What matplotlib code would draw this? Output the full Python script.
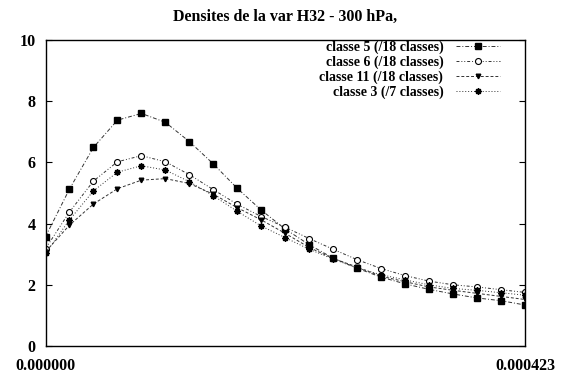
import numpy as np
import matplotlib
matplotlib.use("Agg")
import matplotlib.pyplot as plt

# Densites de la var H32 - 300 hPa : 21 points between 0 and 0.000423
x_min = 0.0
x_max = 0.000423
n_pts = 21
x_vals = np.linspace(x_min, x_max, n_pts)

classe5 = [3.57, 5.13, 6.49, 7.38, 7.60, 7.31, 6.68, 5.95, 5.15, 4.44, 3.82,
           3.31, 2.87, 2.54, 2.25, 2.03, 1.85, 1.70, 1.57, 1.48, 1.34]
classe6 = [3.18, 4.38, 5.39, 6.02, 6.22, 6.02, 5.60, 5.11, 4.63, 4.23, 3.88,
           3.51, 3.16, 2.82, 2.53, 2.30, 2.12, 2.00, 1.93, 1.84, 1.75]
classe11 = [3.08, 3.95, 4.64, 5.14, 5.42, 5.47, 5.31, 4.96, 4.52, 4.12, 3.68,
            3.22, 2.86, 2.58, 2.28, 2.10, 1.93, 1.82, 1.72, 1.62, 1.52]
classe3 = [3.03, 4.12, 5.07, 5.68, 5.89, 5.75, 5.37, 4.91, 4.40, 3.92, 3.54,
           3.16, 2.84, 2.55, 2.33, 2.16, 2.00, 1.88, 1.82, 1.74, 1.66]

labels = ["classe 5 (/18 classes)", "classe 6 (/18 classes)",
          "classe 11 (/18 classes)", "classe 3 (/7 classes)"]
y_ticks = [0, 2, 4, 6, 8, 10]

plt.rcParams['font.family'] = ['Liberation Serif', 'DejaVu Serif']
plt.rcParams['font.weight'] = 'bold'

fig = plt.figure(figsize=(5.79, 3.73), dpi=100)
ax = fig.add_axes([0.0786, 0.0724, 0.9067 - 0.0786, 0.8928 - 0.0724])

lc = '#333333'
ax.plot(x_vals, classe5, color=lc, lw=0.7, ls=(0, (4, 2, 1, 2)),
        marker='s', ms=4.3, mfc='black', mec='black', label=labels[0])
ax.plot(x_vals, classe6, color=lc, lw=0.7, ls=(0, (3, 2, 1, 2, 1, 2)),
        marker='o', ms=4.3, mfc='white', mec='black', mew=0.8, label=labels[1])
ax.plot(x_vals, classe11, color=lc, lw=0.7, ls=(0, (3, 2)),
        marker='v', ms=3.3, mfc='black', mec='black', label=labels[2])
ax.plot(x_vals, classe3, color=lc, lw=0.7, ls=(0, (1, 2)),
        marker=(8, 2, 0), ms=4.5, mec='black', mew=1.1, label=labels[3])

ax.set_xlim(x_min, x_max)
ax.set_ylim(0, 10)
ax.set_xticks([x_min, x_max])
ax.set_xticklabels(['%.6f' % x_min, '%.6f' % x_max])
ax.set_yticks(y_ticks)
ax.tick_params(axis='y', direction='in', length=4, width=0.8, right=True,
               labelsize=11.5, pad=7)
ax.tick_params(axis='x', direction='in', length=0, labelsize=11.5, pad=9)
for s in ax.spines.values():
    s.set_linewidth(1.0)

ax.set_title('Densites de la var H32 - 300 hPa,', fontsize=11.5,
             fontweight='bold', pad=14)

leg = ax.legend(loc='upper right', bbox_to_anchor=(0.96, 1.017), frameon=False,
                markerfirst=False, fontsize=10, handlelength=3.2,
                handletextpad=0.9, labelspacing=0.12, borderaxespad=0.0)

fig.savefig('out.png', dpi=100)
